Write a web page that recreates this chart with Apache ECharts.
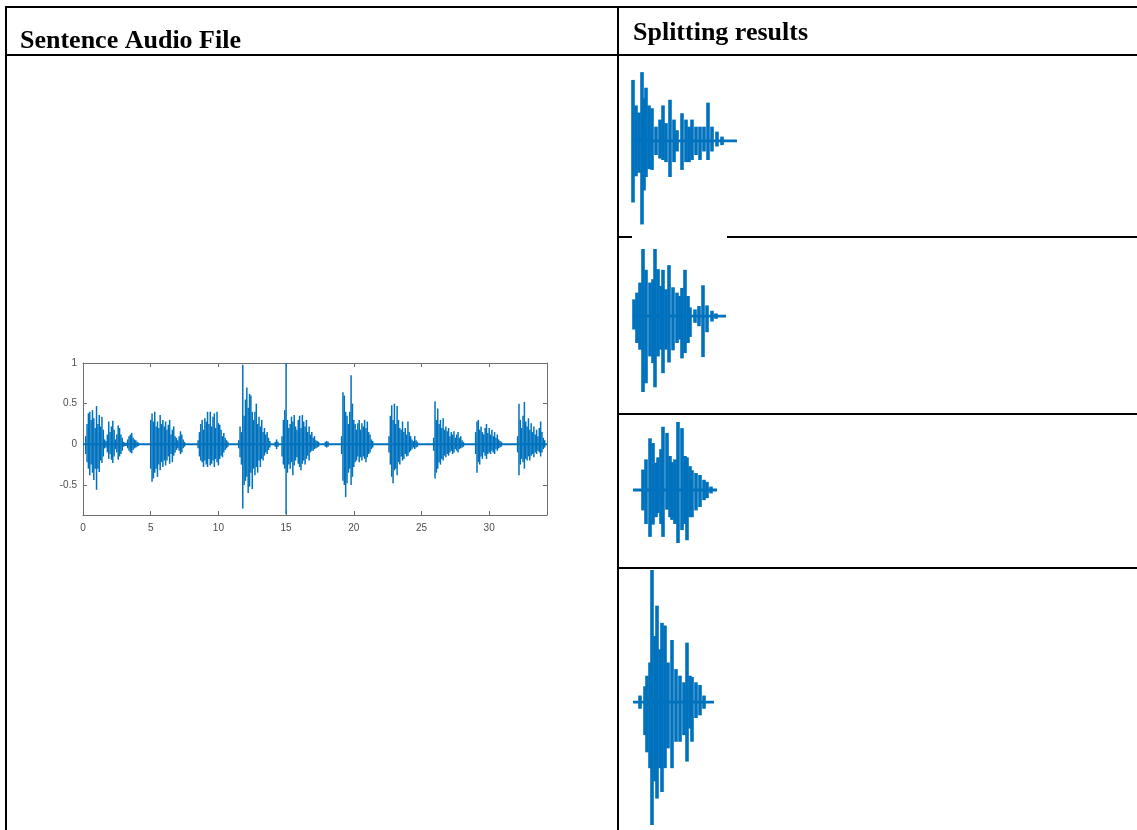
<!DOCTYPE html>
<html>
<head>
<meta charset="utf-8">
<script src="https://cdn.jsdelivr.net/npm/echarts@6/dist/echarts.min.js"></script>
<style>
  html, body { margin: 0; padding: 0; background: #fff; }
  #chart { width: 1137px; height: 830px; }
</style>
</head>
<body>
<div id="chart"></div>
<script>
// header texts
var headers = ['Sentence Audio File', 'Splitting results'];

// sentence axis ticks
var xTicks = [0, 5, 10, 15, 20, 25, 30];
var yTicks = [-0.5, 0, 0.5, 1];
var sentenceSpan = [0, 34.27];
var sampleStep = 0.1; // seconds between envelope samples

// sentence waveform, read as envelope (upper / lower peak every 0.1 s) per voiced burst
var burstStart = [0.2, 5.0, 8.5, 11.5, 14.2, 14.7, 17.9, 19.1, 22.6, 25.9, 29.0, 32.1];
var burstHigh = [
  [.10, .25, .38, .40, .30, .42, .32, .20, .47, .25, .36, .22, .34, .18, .06, .04, .12, .28, .15, .22, .29, .18, .06, .12, .23, .20, .12, .08, .03, .02, .02, .06, .10, .12, .14, .08, .06, .05, .03, .02],
  [.30, .38, .28, .40, .22, .28, .20, .36, .25, .30, .22, .28, .18, .24, .30, .12, .18, .22, .10, .08, .05, .10, .16, .12, .06, .03],
  [.05, .15, .25, .30, .18, .32, .28, .40, .25, .40, .22, .34, .38, .20, .40, .26, .24, .18, .10, .14, .08, .05, .03],
  [.05, .22, .15, .98, .35, .55, .70, .45, .62, .60, .40, .30, .40, .50, .25, .34, .22, .30, .15, .20, .12, .15, .08, .04],
  [.03, .06, .03],
  [.10, .30, .42, 1.0, .30, .20, .25, .34, .28, .36, .22, .18, .30, .35, .20, .36, .28, .22, .30, .15, .22, .12, .15, .08, .10, .05, .04, .03],
  [.03, .04, .03],
  [.10, .64, .60, .40, .35, .25, .40, .85, .50, .30, .25, .18, .26, .30, .18, .26, .22, .30, .20, .28, .15, .12, .06, .04],
  [.10, .35, .48, .30, .50, .25, .47, .30, .20, .18, .28, .15, .20, .12, .28, .15, .10, .06, .04, .10, .05, .03],
  [.08, .53, .30, .44, .25, .30, .20, .32, .18, .22, .16, .20, .10, .15, .12, .16, .08, .12, .15, .08, .10, .05, .03],
  [.15, .28, .30, .18, .22, .15, .12, .20, .25, .14, .20, .12, .18, .10, .15, .08, .12, .06, .04, .03],
  [.10, .50, .30, .20, .35, .52, .28, .22, .32, .18, .26, .15, .22, .12, .18, .10, .20, .28, .15, .08, .05]
];
var burstLow = [
  [-.12, -.22, -.30, -.38, -.25, -.35, -.44, -.30, -.56, -.30, -.34, -.20, -.23, -.15, -.05, -.04, -.10, -.18, -.12, -.19, -.23, -.15, -.06, -.10, -.19, -.15, -.12, -.08, -.03, -.02, -.02, -.05, -.08, -.10, -.11, -.07, -.05, -.04, -.03, -.02],
  [-.30, -.46, -.42, -.35, -.30, -.40, -.25, -.32, -.22, -.28, -.20, -.26, -.20, -.15, -.24, -.12, -.22, -.14, -.10, -.07, -.05, -.08, -.12, -.10, -.05, -.03],
  [-.05, -.15, -.20, -.22, -.28, -.20, -.25, -.28, -.18, -.26, -.24, -.20, -.28, -.18, -.22, -.26, -.18, -.14, -.16, -.10, -.07, -.05, -.03],
  [-.05, -.16, -.25, -.79, -.50, -.45, -.40, -.60, -.52, -.35, -.55, -.30, -.38, -.28, -.35, -.20, -.28, -.18, -.20, -.14, -.10, -.12, -.07, -.04],
  [-.03, -.06, -.03],
  [-.15, -.25, -.30, -.86, -.35, -.25, -.30, -.22, -.38, -.26, -.20, -.16, -.24, -.28, -.32, -.24, -.20, -.25, -.18, -.14, -.20, -.10, -.08, -.08, -.06, -.05, -.04, -.03],
  [-.03, -.04, -.03],
  [-.12, -.45, -.50, -.65, -.48, -.35, -.30, -.50, -.40, -.28, -.22, -.20, -.15, -.22, -.16, -.20, -.15, -.18, -.22, -.16, -.12, -.10, -.06, -.04],
  [-.10, -.25, -.40, -.48, -.32, -.30, -.38, -.22, -.25, -.15, -.20, -.18, -.12, -.15, -.14, -.10, -.08, -.06, -.04, -.06, -.04, -.03],
  [-.08, -.42, -.35, -.30, -.22, -.25, -.18, -.20, -.14, -.16, -.12, -.14, -.10, -.08, -.12, -.10, -.06, -.08, -.10, -.06, -.05, -.04, -.03],
  [-.12, -.35, -.22, -.25, -.15, -.18, -.10, -.14, -.18, -.12, -.10, -.12, -.08, -.10, -.12, -.06, -.08, -.05, -.04, -.03],
  [-.10, -.38, -.25, -.18, -.22, -.30, -.18, -.20, -.15, -.20, -.14, -.12, -.16, -.10, -.12, -.08, -.10, -.15, -.10, -.06, -.04]
];

// split words: sample positions (relative time) and peaks
var split1Time = [.01, .04, .07, .10, .12, .14, .17, .20, .24, .28, .31, .34, .38, .42, .45, .50, .54, .57, .60, .64, .68, .72, .76, .80, .85, .90];
var split1High = [.86, .50, .40, .97, .60, .75, .50, .46, .20, .30, .50, .25, .58, .30, .15, .39, .30, .20, .30, .20, .20, .20, .54, .20, .13, .06];
var split1Low = [-.87, -.50, -.45, -1.18, -.70, -.51, -.40, -.41, -.20, -.25, -.27, -.30, -.51, -.30, -.15, -.41, -.30, -.30, -.27, -.20, -.27, -.15, -.27, -.15, -.08, -.06];
var split1Span = [0, 1.05];

var split2Time = [.02, .05, .08, .11, .14, .18, .21, .23, .26, .29, .31, .34, .37, .41, .45, .48, .50, .53, .56, .58, .63, .67, .71, .75, .80, .84];
var split2High = [.25, .35, .50, 1.0, .69, .50, .55, 1.0, .70, .45, .69, .40, .76, .43, .35, .30, .42, .69, .30, .13, .10, .15, .46, .16, .08, .04];
var split2Low = [-.20, -.40, -.50, -1.13, -1.0, -.60, -.70, -1.06, -.60, -.50, -.85, -.50, -.69, -.51, -.40, -.35, -.63, -.55, -.40, -.31, -.10, -.15, -.61, -.24, -.08, -.04];
var split2Span = [0.01, 0.94];

var split3Time = [.11, .14, .18, .21, .24, .26, .29, .31, .35, .38, .40, .43, .46, .50, .53, .55, .58, .60, .64, .68, .72, .75, .79];
var split3High = [.30, .45, .76, .69, .40, .48, .60, .93, .84, .50, .41, .45, 1.0, .91, .50, .48, .35, .29, .25, .22, .15, .12, .05];
var split3Low = [-.30, -.50, -.69, -.51, -.40, -.34, -.50, -.69, -.29, -.40, -.44, -.50, -.78, -.59, -.50, -.74, -.40, -.40, -.30, -.25, -.15, -.12, -.05];
var split3Span = [0.01, 0.85];

var split4Time = [.08, .13, .15, .18, .20, .23, .25, .28, .30, .33, .36, .40, .44, .48, .52, .55, .58, .60, .64, .68, .72];
var split4High = [.05, .12, .20, .30, 1.0, .50, .73, .40, .60, .58, .30, .47, .25, .20, .15, .45, .20, .19, .15, .13, .05];
var split4Low = [-.05, -.25, -.38, -.50, -.93, -.60, -.73, -.50, -.68, -.50, -.35, -.50, -.30, -.30, -.25, -.45, -.20, -.30, -.12, -.10, -.05];
var split4Span = [0.01, 0.82];

var blue = '#0072bd';
var axisGray = '#6e6e6e';
var labelGray = '#4d4d4d';

// build sentence data
var sentenceData = [];
burstStart.forEach(function (start, b) {
  burstHigh[b].forEach(function (hi, i) {
    var t = Math.round((start + i * sampleStep) * 100) / 100;
    sentenceData.push([t, hi, burstLow[b][i]]);
  });
});

function zipSplit(times, highs, lows) {
  return times.map(function (t, i) { return [t, highs[i], lows[i]]; });
}

var splits = [
  { data: zipSplit(split1Time, split1High, split1Low), span: split1Span, top: 70, height: 158, min: -1.23 },
  { data: zipSplit(split2Time, split2High, split2Low), span: split2Span, top: 249, height: 143, min: -1.13 },
  { data: zipSplit(split3Time, split3High, split3Low), span: split3Span, top: 422, height: 121, min: -0.78 },
  { data: zipSplit(split4Time, split4High, split4Low), span: split4Span, top: 570, height: 255, min: -0.93 }
];

function waveItem(width) {
  return function (params, api) {
    var p1 = api.coord([api.value(0), api.value(1)]);
    var p2 = api.coord([api.value(0), api.value(2)]);
    return {
      type: 'line',
      shape: { x1: p1[0], y1: p1[1], x2: p2[0], y2: p2[1] },
      style: { stroke: blue, lineWidth: width }
    };
  };
}

var tickStyle = { inside: true, length: 4, lineStyle: { color: axisGray } };
var lineStyle = { show: true, onZero: false, lineStyle: { color: axisGray, width: 1 } };

var grids = [{ left: 83, top: 363, width: 464, height: 152 }];
var xAxes = [
  {
    type: 'value', gridIndex: 0, position: 'bottom', min: sentenceSpan[0], max: sentenceSpan[1],
    axisLine: lineStyle, splitLine: { show: false },
    axisTick: Object.assign({ customValues: xTicks }, tickStyle),
    axisLabel: { customValues: xTicks, color: labelGray, fontSize: 10, margin: 8, fontFamily: 'Liberation Sans' }
  },
  {
    type: 'value', gridIndex: 0, position: 'top', min: sentenceSpan[0], max: sentenceSpan[1],
    axisLine: lineStyle, splitLine: { show: false },
    axisTick: Object.assign({ customValues: xTicks }, tickStyle),
    axisLabel: { show: false }
  }
];
var yAxes = [
  {
    type: 'value', gridIndex: 0, position: 'left', min: -0.87, max: 1,
    axisLine: lineStyle, splitLine: { show: false },
    axisTick: Object.assign({ show: true, customValues: yTicks }, tickStyle),
    axisLabel: { customValues: yTicks, color: labelGray, fontSize: 10, margin: 6, fontFamily: 'Liberation Sans' }
  },
  {
    type: 'value', gridIndex: 0, position: 'right', min: -0.87, max: 1,
    axisLine: lineStyle, splitLine: { show: false },
    axisTick: Object.assign({ show: true, customValues: yTicks }, tickStyle),
    axisLabel: { show: false }
  }
];
var series = [
  {
    type: 'custom', xAxisIndex: 0, yAxisIndex: 0, data: sentenceData,
    encode: { x: 0, y: [1, 2] }, renderItem: waveItem(1.5), silent: true
  },
  {
    type: 'line', xAxisIndex: 0, yAxisIndex: 0, symbol: 'none', silent: true,
    data: [[sentenceSpan[0], 0], [sentenceSpan[1], 0]],
    lineStyle: { color: blue, width: 2 }
  }
];

splits.forEach(function (s, k) {
  var gi = k + 1;
  grids.push({ left: 632, top: s.top, width: 105, height: s.height });
  xAxes.push({ type: 'value', gridIndex: gi, min: 0, max: 1.05, show: false });
  yAxes.push({ type: 'value', gridIndex: gi, min: s.min, max: 1, show: false });
  series.push({
    type: 'custom', xAxisIndex: gi + 1, yAxisIndex: gi + 1, data: s.data,
    encode: { x: 0, y: [1, 2] }, renderItem: waveItem(3.6), silent: true
  });
  series.push({
    type: 'line', xAxisIndex: gi + 1, yAxisIndex: gi + 1, symbol: 'none', silent: true,
    data: [[s.span[0], 0], [s.span[1], 0]],
    lineStyle: { color: blue, width: 2.8 }
  });
});

// table rules
function rule(x1, y1, x2, y2) {
  return { type: 'line', shape: { x1: x1, y1: y1, x2: x2, y2: y2 }, style: { stroke: '#000', lineWidth: 2 }, z: 10 };
}
var graphics = [
  rule(5, 7, 1137, 7),
  rule(5, 55, 1137, 55),
  rule(6, 6, 6, 830),
  rule(618, 6, 618, 830),
  rule(618, 237, 1137, 237),
  rule(618, 414, 1137, 414),
  rule(618, 568, 1137, 568),
  { type: 'rect', shape: { x: 632, y: 235, width: 95, height: 4 }, style: { fill: '#fff' }, z: 11 },
  {
    type: 'text', x: 20, y: 41, z: 12,
    style: { text: headers[0], font: 'bold 26px "Liberation Serif"', fill: '#000', verticalAlign: 'middle' }
  },
  {
    type: 'text', x: 633, y: 33, z: 12,
    style: { text: headers[1], font: 'bold 26px "Liberation Serif"', fill: '#000', verticalAlign: 'middle' }
  }
];

var chart = echarts.init(document.getElementById('chart'), null, { renderer: 'canvas' });
chart.setOption({
  animation: false,
  backgroundColor: '#fff',
  grid: grids,
  xAxis: xAxes,
  yAxis: yAxes,
  series: series,
  graphic: graphics
});
</script>
</body>
</html>
